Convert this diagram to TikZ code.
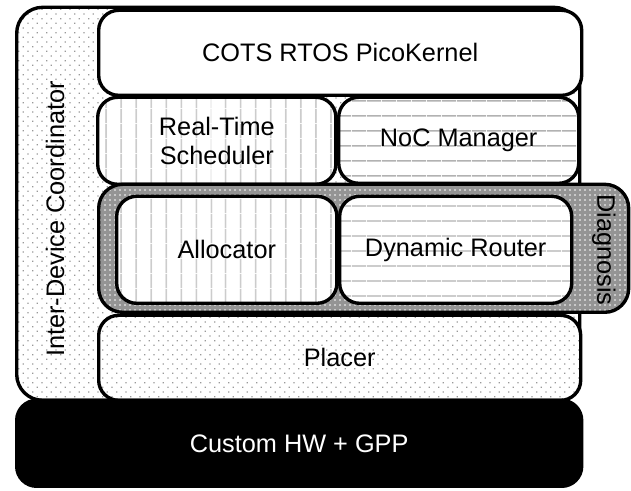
\documentclass[tikz,border=0pt]{standalone}
\usepackage{fontspec}
\setmainfont{Liberation Sans}
\usetikzlibrary{patterns.meta}

\tikzset{
  layer/.style={draw, line width=2.4pt, rounded corners=0.5cm, inner sep=0pt, anchor=south west, align=center},
  vlines/.style={preaction={fill=white}, pattern={Lines[angle=90, distance=0.375cm, line width=1pt]}, pattern color=black!30},
  hlines/.style={preaction={fill=white}, pattern={Lines[angle=0, distance=0.375cm, line width=1pt]}, pattern color=black!30},
  dotted fill/.style={preaction={fill=white}, pattern={Dots[angle=45, distance=0.165cm, radius=0.6pt]}, pattern color=black!40},
  gray dots/.style={preaction={fill=black!42}, pattern={Dots[distance=0.125cm, radius=0.6pt]}, pattern color=white},
  every node/.style={font=\fontsize{18}{21}\selectfont}
}

\begin{document}
\begin{tikzpicture}
            \useasboundingbox (0,0) rectangle (15.775,12.25);

            \node[layer, dotted fill, rounded corners=0.65cm, minimum width=14.075cm, minimum height=9.825cm] (coord) at (0.375,2.2) {};
            \node[rotate=90] (coordlabel) at (1.375,6.775) {Inter-Device Coordinator};

            \node[layer, fill=white, minimum width=12.075cm, minimum height=2.125cm] (cots) at (2.425,9.825) {COTS RTOS PicoKernel};
            \node[layer, vlines, minimum width=5.955cm, minimum height=2.175cm] (sched) at (2.425,7.625) {Real-Time\\Scheduler};
            \node[layer, hlines, minimum width=6.0cm, minimum height=2.15cm] (noc) at (8.45,7.65) {NoC Manager};

            \node[layer, gray dots, rounded corners=0.6cm, minimum width=13.25cm, minimum height=3.2cm] (diag) at (2.425,4.4) {};
            \node[rotate=-90] (diaglabel) at (15.1,6.0) {Diagnosis};
            \node[layer, vlines, minimum width=5.505cm, minimum height=2.675cm] (alloc) at (2.875,4.625) {Allocator};
            \node[layer, hlines, minimum width=5.8cm, minimum height=2.675cm] (router) at (8.45,4.625) {Dynamic Router};

            \node[layer, dotted fill, minimum width=12.05cm, minimum height=2.125cm] (placer) at (2.425,2.2) {Placer};
            \node[layer, fill=black, text=white, minimum width=14.125cm, minimum height=2.15cm] (hw) at (0.375,0.05) {Custom HW + GPP};
        \end{tikzpicture}
\end{document}
